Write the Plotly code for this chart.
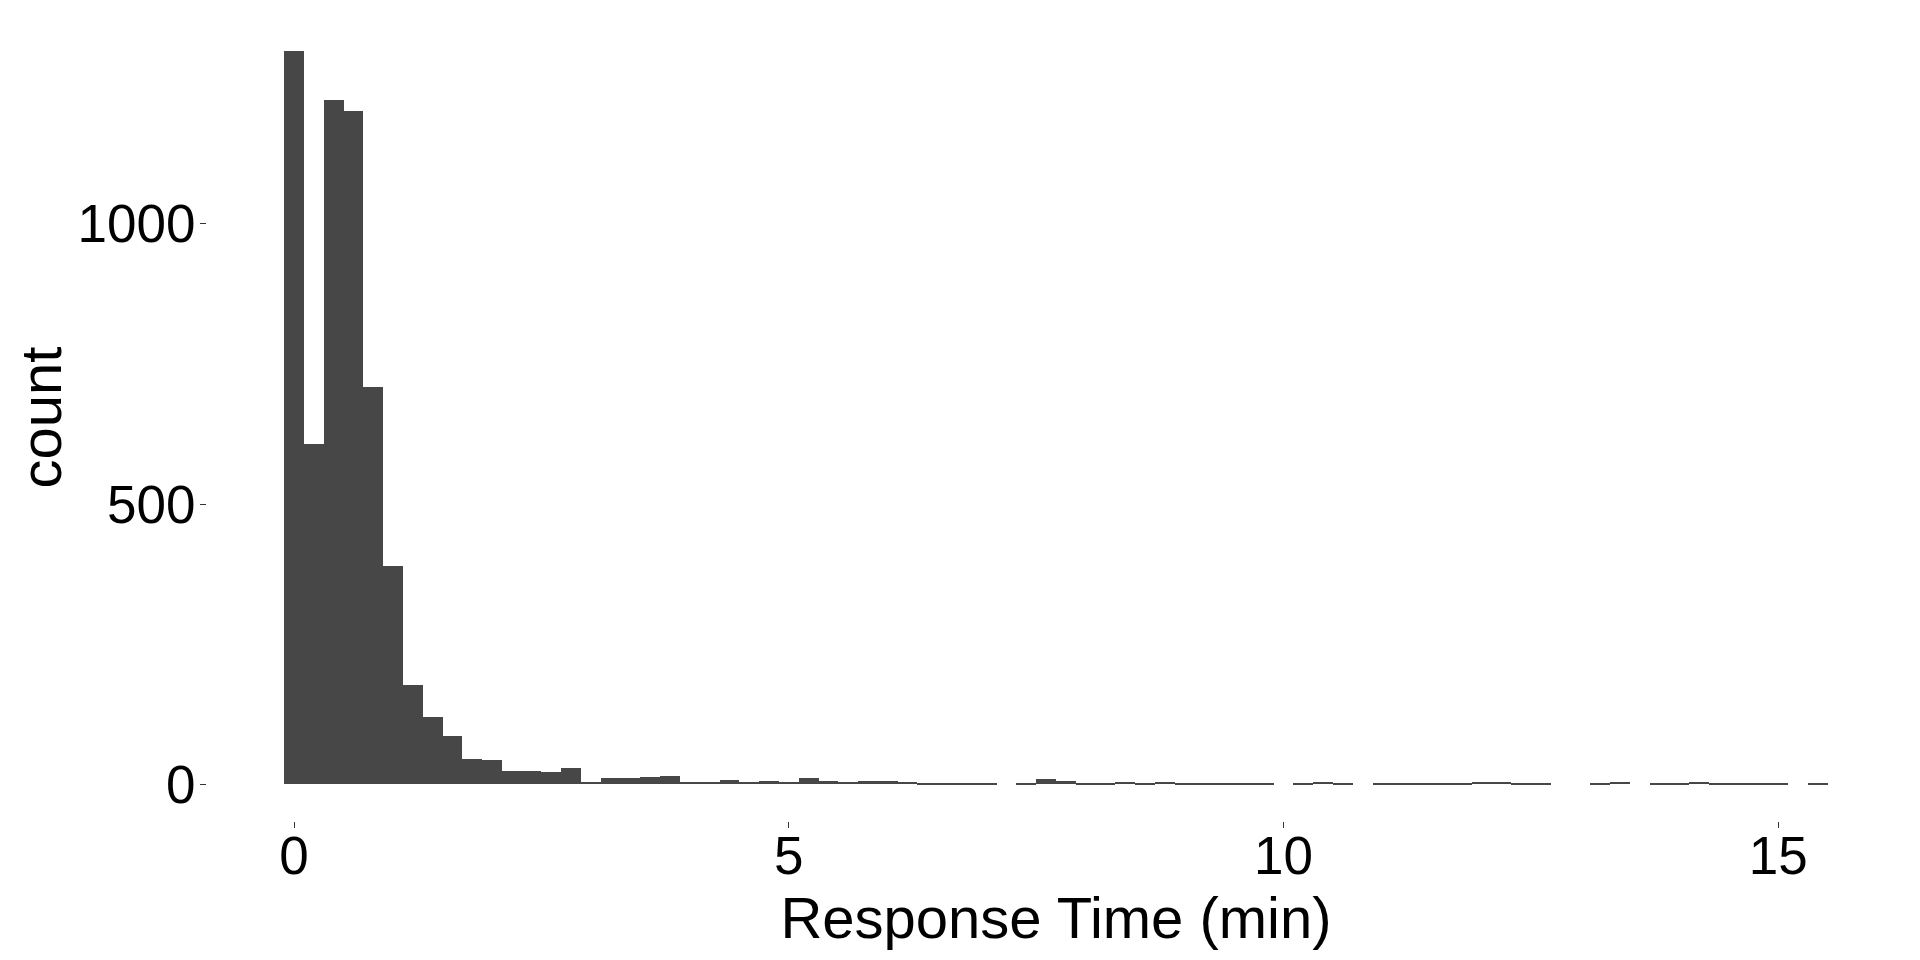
import plotly.graph_objects as go

# Histogram of response times, bins of width 0.2 min centred on multiples of 0.2
bin_width = 0.2
first_center = 0.0
counts = [
    1309, 607, 1221, 1202, 709, 390, 177, 120, 86, 45,
    43, 24, 24, 22, 29, 4, 11, 11, 13, 15,
    4, 4, 8, 4, 6, 4, 11, 6, 4, 6,
    6, 4, 1, 2, 2, 2, 0, 2, 9, 6,
    1, 2, 4, 2, 4, 2, 2, 2, 1, 1,
    0, 2, 4, 2, 0, 1, 1, 2, 2, 1,
    4, 4, 2, 2, 0, 0, 2, 4, 0, 2,
    2, 4, 2, 2, 1, 1, 0, 1,
]
bin_centers = [round(first_center + i * bin_width, 1) for i in range(len(counts))]

x_ticks = [0, 5, 10, 15]
y_ticks = [0, 500, 1000]
x_title = "Response Time (min)"
y_title = "count"

FONT = "Arial, Liberation Sans, sans-serif"

fig = go.Figure()
fig.add_trace(go.Bar(
    x=bin_centers, y=counts, width=bin_width,
    marker=dict(color="#474747", line=dict(width=0)),
    showlegend=False,
))

x_lo, x_hi = bin_centers[0] - bin_width / 2, bin_centers[-1] + bin_width / 2
xpad = (x_hi - x_lo) * 0.05
ymax = max(counts)
ypad = ymax * 0.05

fig.update_layout(
    width=1912, height=952,
    margin=dict(l=199, r=15, t=6, b=139, autoexpand=False),
    paper_bgcolor="white", plot_bgcolor="white",
    bargap=0,
    font=dict(family=FONT, color="black"),
    xaxis=dict(
        range=[x_lo - xpad, x_hi + xpad],
        tickmode="array", tickvals=x_ticks, ticktext=[str(v) for v in x_ticks],
        ticks="outside", ticklen=6, tickwidth=1.3, tickcolor="#333333",
        tickfont=dict(size=53, color="black", family=FONT),
        ticklabelstandoff=-18,
        showgrid=False, zeroline=False, showline=False,
        title=dict(text=x_title, font=dict(size=58, color="black", family=FONT), standoff=0),
        automargin=False,
    ),
    yaxis=dict(
        range=[-ypad, ymax + ypad],
        tickmode="array", tickvals=y_ticks, ticktext=[str(v) for v in y_ticks],
        ticks="outside", ticklen=6, tickwidth=1.3, tickcolor="#333333",
        tickfont=dict(size=53, color="black", family=FONT),
        ticklabelstandoff=-6,
        showgrid=False, zeroline=False, showline=False,
        title=dict(text=y_title, font=dict(size=58, color="black", family=FONT), standoff=12),
        automargin=False,
    ),
)

fig.write_html("out.html")
